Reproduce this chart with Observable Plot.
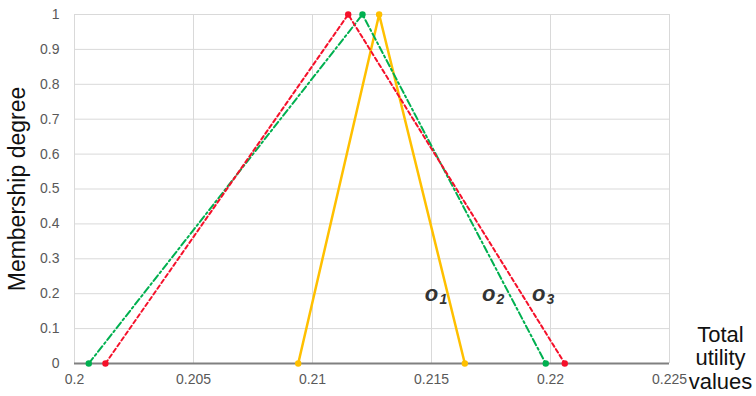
<!DOCTYPE html>
<html><head><meta charset="utf-8">
<script src="https://cdn.jsdelivr.net/npm/d3@7"></script>
<script src="https://cdn.jsdelivr.net/npm/@observablehq/plot@0.6"></script>
<style>body{margin:0;background:#fff}</style>
</head><body><div id="chart"></div>
<script>
const xTicks = [0.2, 0.205, 0.21, 0.215, 0.22, 0.225];
const yTicks = [0, 0.1, 0.2, 0.3, 0.4, 0.5, 0.6, 0.7, 0.8, 0.9, 1];
const seriesNames = ["o", "o", "o"];
const seriesSubs = ["1", "2", "3"];
const o1X = [0.2094, 0.2128, 0.2164];
const o2X = [0.2006, 0.2121, 0.2198];
const o3X = [0.2013, 0.2115, 0.2206];
const memberY = [0, 1, 0];
const labelX = [0.2150, 0.2174, 0.2195];
const labelY = [0.2, 0.2, 0.2];
const yTitle = "Membership degree";
const xTitle = "Total\nutility\nvalues";

const toPts = xs => xs.map((x, i) => ({x, y: memberY[i]}));
const o1 = toPts(o1X), o2 = toPts(o2X), o3 = toPts(o3X);
const labels = labelX.map((x, i) => ({x, y: labelY[i], t: seriesNames[i], s: seriesSubs[i]}));

const fmt = d => String(+d.toFixed(3));

const chart = Plot.plot({
  width: 756, height: 396,
  marginLeft: 74, marginRight: 87, marginTop: 14, marginBottom: 33,
  style: {fontFamily: "'Liberation Sans', Arial, sans-serif", fontSize: "14px", color: "#595959", background: "#fff"},
  x: {domain: [0.2, 0.225], ticks: xTicks, tickFormat: fmt, tickSize: 0, tickPadding: 11, label: null},
  y: {domain: [0, 1], ticks: yTicks, tickFormat: fmt, tickSize: 0, tickPadding: 15, label: null},
  marks: [
    Plot.gridX(xTicks, {stroke: "#d9d9d9", strokeOpacity: 1}),
    Plot.gridY(yTicks.filter(v => v > 0), {stroke: "#d9d9d9", strokeOpacity: 1}),
    Plot.ruleY([0], {stroke: "#808080", strokeWidth: 2}),
    Plot.line(o1, {x: "x", y: "y", stroke: "#ffc000", strokeWidth: 2.5}),
    Plot.line(o2, {x: "x", y: "y", stroke: "#00b050", strokeWidth: 2, strokeDasharray: "7,3,2,3"}),
    Plot.line(o3, {x: "x", y: "y", stroke: "#f5102a", strokeWidth: 2, strokeDasharray: "4,3"}),
    Plot.dot(o1, {x: "x", y: "y", r: 3.2, fill: "#ffc000"}),
    Plot.dot(o2, {x: "x", y: "y", r: 3.2, fill: "#00b050"}),
    Plot.dot(o3, {x: "x", y: "y", r: 3.2, fill: "#f5102a"}),
    Plot.text(labels, {x: "x", y: "y", text: "t", fontSize: 22, fontWeight: "bold", fontStyle: "italic", fill: "#333", textAnchor: "middle"}),
    Plot.text(labels, {x: "x", y: "y", text: "s", fontSize: 14, fontWeight: "bold", fontStyle: "italic", fill: "#333", dx: 8, dy: 6, textAnchor: "start"}),
    Plot.text([yTitle], {frameAnchor: "left", rotate: -90, dx: -57, textAnchor: "middle", lineAnchor: "middle", fontSize: 23, fill: "#111"}),
    Plot.text([xTitle], {x: 0.225, y: 0, dx: 51, dy: -6, textAnchor: "middle", lineAnchor: "middle", lineHeight: 1.07, fontSize: 22, fill: "#111"})
  ]
});
document.getElementById("chart").appendChild(chart);
</script>
</body></html>
